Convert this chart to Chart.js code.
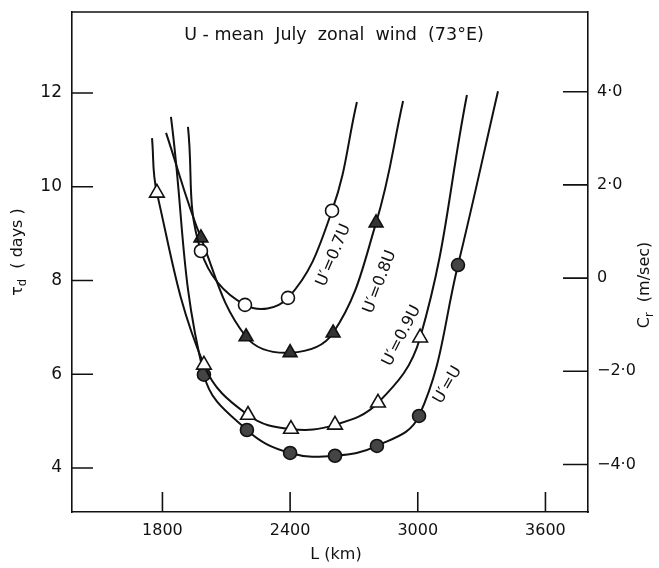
<!DOCTYPE html>
<html>
<head>
<meta charset="utf-8">
<script src="https://cdn.jsdelivr.net/npm/chart.js@4.4.0/dist/chart.umd.min.js"></script>
<style>
  html, body { margin: 0; padding: 0; background: #fff; }
  #box { width: 659px; height: 568px; }
</style>
</head>
<body>
<div id="box"><canvas id="grafico"></canvas></div>
<script>
// L (km) and tau_d (days).
// first and last node of every curve are the bare curve ends (no symbol)
const L07 = [1920, 1981, 2188, 2390, 2597, 2714];
const tau07 = [11.28, 8.63, 7.48, 7.63, 9.49, 11.81];

const L08 = [1817, 1981, 2193, 2400, 2602, 2804, 2931];
const tau08 = [11.15, 8.91, 6.80, 6.46, 6.88, 9.23, 11.83];

const L09 = [1751, 1774, 1995, 2202, 2404, 2611, 2813, 3011, 3231];
const tau09 = [11.04, 9.87, 6.20, 5.13, 4.83, 4.92, 5.39, 6.78, 11.96];

const L10 = [1840, 1995, 2197, 2400, 2611, 2808, 3006, 3189, 3377];
const tau10 = [11.49, 5.99, 4.81, 4.32, 4.26, 4.47, 5.11, 8.33, 12.04];

const xTicks = [1800, 2400, 3000, 3600];
const tauTicks = [4, 6, 8, 10, 12];
const crTicks = [-4, -2, 0, 2, 4];
const crLabels = ['\u22124\u00b70', '\u22122\u00b70', '0', '2\u00b70', '4\u00b70'];

const curveNames = ['U\u2032=0.7U', 'U\u2032=0.8U', 'U\u2032=0.9U', 'U\u2032=U'];

const FONT = '"DejaVu Sans", sans-serif';
const INK = '#111';

const pts = (xs, ys) => xs.map((v, i) => ({ x: v, y: ys[i] }));
const ends = r => ctx => (ctx.dataIndex === 0 || ctx.dataIndex === ctx.dataset.data.length - 1) ? 0 : r;

function curva(label, xs, ys, estilo, raio, fundo) {
  return {
    label: label,
    data: pts(xs, ys),
    borderColor: INK,
    borderWidth: 2,
    pointStyle: estilo,
    pointRadius: ends(raio),
    pointBackgroundColor: fundo,
    pointBorderColor: INK,
    pointBorderWidth: 1.6,
    tension: 0.4,
    yAxisID: 'y'
  };
}

// texto com subscrito
function texto(ctx, partes, cx, cy, rot, size) {
  ctx.save();
  ctx.translate(cx, cy);
  ctx.rotate(rot);
  let w = 0;
  partes.forEach(p => {
    ctx.font = (p.sub ? size * 0.72 : size) + 'px ' + FONT;
    p.w = ctx.measureText(p.t).width;
    w += p.w;
  });
  let x = -w / 2;
  ctx.textAlign = 'left';
  ctx.textBaseline = 'middle';
  ctx.fillStyle = INK;
  partes.forEach(p => {
    ctx.font = (p.sub ? size * 0.72 : size) + 'px ' + FONT;
    ctx.fillText(p.t, x, p.sub ? size * 0.32 : 0);
    x += p.w;
  });
  ctx.restore();
}

const decor = {
  id: 'decor',
  afterDraw(chart) {
    const { ctx, chartArea: a, scales } = chart;
    ctx.save();
    ctx.strokeStyle = INK;
    ctx.lineWidth = 1.6;
    // borda de cima
    ctx.beginPath();
    ctx.moveTo(a.left, a.top);
    ctx.lineTo(a.right, a.top);
    ctx.stroke();
    // ticks para dentro
    ctx.beginPath();
    xTicks.forEach(v => {
      const px = scales.x.getPixelForValue(v);
      ctx.moveTo(px, a.bottom);
      ctx.lineTo(px, a.bottom - 20);
    });
    tauTicks.forEach(v => {
      const py = scales.y.getPixelForValue(v);
      ctx.moveTo(a.left, py);
      ctx.lineTo(a.left + 21, py);
    });
    crTicks.forEach(v => {
      const py = scales.y2.getPixelForValue(v);
      ctx.moveTo(a.right, py);
      ctx.lineTo(a.right - 25, py);
    });
    ctx.stroke();

    // titulo dentro do grafico
    texto(ctx, [{ t: 'U - mean  July  zonal  wind  (73\u00b0E)' }], (a.left + a.right) / 2 + 4, a.top + 23, 0, 17.5);
    // titulos dos eixos
    texto(ctx, [{ t: '\u03c4' }, { t: 'd', sub: true }, { t: '  ( days )' }], 18, 252, -Math.PI / 2, 16);
    texto(ctx, [{ t: 'C' }, { t: 'r', sub: true }, { t: '  (m/sec)' }], 645, 285, -Math.PI / 2, 16);
    texto(ctx, [{ t: 'L (km)' }], (a.left + a.right) / 2 + 6, 555, 0, 16);

    // rotulos das curvas
    const anchorL = [2605, 2822, 2925, 3141];
    const anchorT = [8.54, 7.97, 6.82, 5.77];
    const ang = [-67, -69, -63, -60];
    curveNames.forEach((n, i) => {
      texto(ctx, [{ t: n }], scales.x.getPixelForValue(anchorL[i]), scales.y.getPixelForValue(anchorT[i]),
        ang[i] * Math.PI / 180, 16);
    });
    ctx.restore();
  }
};

// largura fixa do eixo, sem folga extra em cima/embaixo
const fixW = w => s => { s.width = w; s.paddingTop = 0; s.paddingBottom = 0; };

const grafico = document.getElementById('grafico');

new Chart(grafico, {
  type: 'line',
  data: {
    datasets: [
      curva(curveNames[0], L07, tau07, 'circle', 6.5, '#fff'),
      curva(curveNames[1], L08, tau08, 'triangle', 8, '#333'),
      curva(curveNames[2], L09, tau09, 'triangle', 8.5, '#fff'),
      curva(curveNames[3], L10, tau10, 'circle', 6.5, '#444')
    ]
  },
  options: {
    responsive: true,
    maintainAspectRatio: false,
    animation: false,
    layout: { padding: { top: 12, left: 0, right: 0, bottom: 0 } },
    plugins: { legend: { display: false }, tooltip: { enabled: false } },
    scales: {
      x: {
        type: 'linear',
        min: 1375,
        max: 3800,
        afterBuildTicks: s => { s.ticks = xTicks.map(v => ({ value: v })); },
        afterFit: s => { s.height = 56; s.paddingLeft = 0; s.paddingRight = 0; },
        grid: { display: false, drawTicks: false },
        border: { display: true, color: INK, width: 1.6 },
        ticks: { color: INK, padding: 9, font: { family: FONT, size: 16 }, maxRotation: 0, callback: v => String(v) }
      },
      y: {
        type: 'linear',
        position: 'left',
        min: 3.06,
        max: 13.73,
        afterBuildTicks: s => { s.ticks = tauTicks.map(v => ({ value: v })); },
        afterFit: fixW(72),
        grid: { display: false, drawTicks: false },
        border: { display: true, color: INK, width: 1.6 },
        ticks: { color: INK, padding: 10, font: { family: FONT, size: 17 } }
      },
      y2: {
        type: 'linear',
        position: 'right',
        min: -5.02,
        max: 5.71,
        afterBuildTicks: s => { s.ticks = crTicks.map(v => ({ value: v })); },
        afterFit: fixW(71),
        grid: { display: false, drawTicks: false },
        border: { display: true, color: INK, width: 1.6 },
        ticks: {
          color: INK,
          padding: 9,
          font: { family: FONT, size: 16 },
          callback: v => crLabels[crTicks.indexOf(v)]
        }
      }
    }
  },
  plugins: [decor]
});
</script>
</body>
</html>
